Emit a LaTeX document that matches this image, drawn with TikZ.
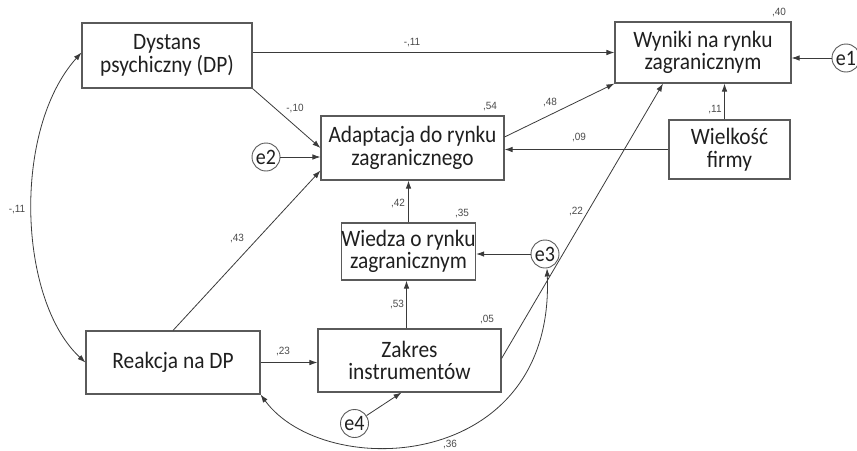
\documentclass[tikz,border=0pt]{standalone}
\usepackage{fontspec}
\setmainfont{Carlito}[FakeStretch=0.91]
\newfontfamily\labelfont{Liberation Sans}[FakeStretch=0.95]
\usetikzlibrary{arrows.meta}
\definecolor{edgegray}{HTML}{3A3A3A}
\definecolor{boxgray}{HTML}{5A5A5A}
\definecolor{coefgray}{HTML}{4A4A4A}
\begin{document}
\begin{tikzpicture}[x=1pt,y=-1pt,
  var/.style={draw=boxgray, line width=1.1pt, align=center, inner sep=0pt,
    font=\fontsize{23.5}{22.5}\selectfont, text=black!88},
  err/.style={draw=boxgray, line width=0.9pt, circle, minimum size=28pt, inner sep=0pt,
    font=\fontsize{22}{22}\selectfont, text=black!88},
  path/.style={draw=edgegray, line width=0.8pt, -{Latex[length=8pt,width=5.5pt]}},
  cov/.style={draw=edgegray, line width=0.8pt, {Latex[length=8pt,width=5.5pt]}-{Latex[length=8pt,width=5.5pt]}},
  coef/.style={font=\labelfont\fontsize{10.5}{11}\selectfont, text=coefgray, inner sep=0pt}]
\useasboundingbox (0,0) rectangle (857,450);

% observed variables
\node[var, minimum width=170pt, minimum height=65pt] (dp) at (167,55.5) {Dystans\\psychiczny (DP)};
\node[var, minimum width=176pt, minimum height=61pt] (wyniki) at (703,52.5) {Wyniki na rynku\\zagranicznym};
\node[var, minimum width=183pt, minimum height=64pt] (adapt) at (412.5,148) {Adaptacja do rynku\\zagranicznego};
\node[var, minimum width=121pt, minimum height=59pt] (wielk) at (729.5,149.5) {Wielkość\\firmy};
\node[var, minimum width=131pt, minimum height=57pt] (wiedza) at (408.5,251.5) {Wiedza o rynku\\zagranicznym};
\node[var, minimum width=183pt, minimum height=63pt] (zakres) at (409.5,360.5) {Zakres\\instrumentów};
\node[var, minimum width=174pt, minimum height=63pt] (reakcja) at (173,362.5) {Reakcja na DP};

% error terms
\node[err] (e1) at (846,58) {e1};
\node[err] (e2) at (266,157) {e2};
\node[err] (e3) at (545,254) {e3};
\node[err] (e4) at (354.5,423.5) {e4};

% structural paths
\draw[path] (dp.east |- wyniki.west) -- (wyniki.west);
\draw[path] (dp.south east) -- (adapt.west);
\draw[path] (e2) -- (adapt.west |- e2);
\draw[path] (reakcja.north) -- ([yshift=10pt]adapt.south west);
\draw[path] ([yshift=11pt]adapt.east) -- (wyniki.south west);
\draw[path] (wielk.west) -- (adapt.east |- wielk.west);
\draw[path] ([xshift=-5pt]wielk.north) -- ([xshift=-5pt]wielk.north |- wyniki.south);
\draw[path] (e1) -- (wyniki.east |- e1);
\draw[path] (wiedza.north) -- (wiedza.north |- adapt.south);
\draw[path] (e3) -- (wiedza.east |- e3);
\draw[path] ([xshift=-3pt]zakres.north) -- ([xshift=-3pt]zakres.north |- wiedza.south);
\draw[path] ([yshift=2pt]zakres.east) -- ([xshift=-40pt]wyniki.south);
\draw[path] (reakcja.east) -- (zakres.west |- reakcja.east);
\draw[path] (e4) -- ([xshift=-8pt]zakres.south);

% correlations
\draw[cov] (dp.west |- wyniki.west) .. controls (12,130) and (18,300) .. (reakcja.west);
\draw[cov] (reakcja.south east) .. controls (325,482) and (555,472) .. ([xshift=2pt]e3.south);

% coefficients
\node[coef] (c1) at (412,43) {-,11};
\node[coef] (c2) at (295,109) {-,10};
\node[coef] (c3) at (490,107) {,54};
\node[coef] (c4) at (550,103) {,48};
\node[coef] (c5) at (579,138) {,09};
\node[coef] (c6) at (779,13) {,40};
\node[coef] (c7) at (715,110) {,11};
\node[coef] (c8) at (17,210) {-,11};
\node[coef] (c9) at (237,239) {,43};
\node[coef] (c10) at (283,352) {,23};
\node[coef] (c11) at (398,204) {,42};
\node[coef] (c12) at (462,214) {,35};
\node[coef] (c13) at (576,212) {,22};
\node[coef] (c14) at (397,305) {,53};
\node[coef] (c15) at (487,320) {,05};
\node[coef] (c16) at (450,445) {,36};
\end{tikzpicture}
\end{document}
